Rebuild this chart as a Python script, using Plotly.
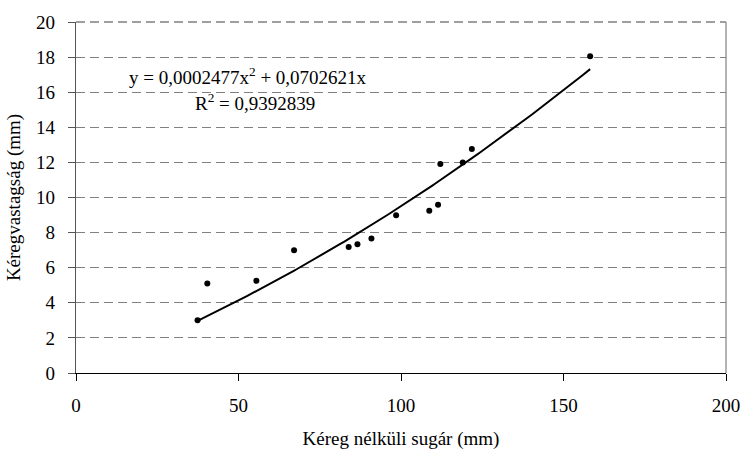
import numpy as np
import plotly.graph_objects as go

# Measured samples: bark-free radius (mm) vs bark thickness (mm)
radius = [37.4, 40.4, 55.5, 67.1, 83.9, 86.6, 90.9, 98.5, 108.7, 111.4, 112.1, 119.0, 121.8, 158.2]
thickness = [3.01, 5.10, 5.25, 7.00, 7.18, 7.34, 7.66, 8.99, 9.25, 9.59, 11.91, 12.00, 12.76, 18.05]

# Quadratic trend through the origin
coef_a = 0.0002477
coef_b = 0.0702621
r_squared = 0.9392839

x_ticks = [0, 50, 100, 150, 200]
y_ticks = [0, 2, 4, 6, 8, 10, 12, 14, 16, 18, 20]

FONT = "Liberation Serif"
FS = 19

xs = np.linspace(min(radius), max(radius), 200)
ys = coef_a * xs**2 + coef_b * xs

fig = go.Figure()
fig.add_trace(go.Scatter(x=xs, y=ys, mode="lines",
                         line=dict(color="black", width=2), hoverinfo="skip"))
fig.add_trace(go.Scatter(x=radius, y=thickness, mode="markers",
                         marker=dict(color="black", size=6)))

def fmt(v, d):
    return f"{v:.{d}f}".replace(".", ",")

eq_text = f"y = {fmt(coef_a, 7)}x<sup>2</sup> + {fmt(coef_b, 7)}x"
r2_text = f"R<sup>2</sup> = {fmt(r_squared, 7)}"

fig.add_annotation(x=0.078, y=0.846, xref="paper", yref="paper", text=eq_text,
                   showarrow=False, xanchor="left", yanchor="middle",
                   font=dict(family=FONT, size=FS, color="black"))
fig.add_annotation(x=0.18, y=0.772, xref="paper", yref="paper", text=r2_text,
                   showarrow=False, xanchor="left", yanchor="middle",
                   font=dict(family=FONT, size=FS, color="black"))

# right-hand frame edge
fig.add_shape(type="line", xref="paper", yref="paper", x0=1, x1=1, y0=0, y1=1,
              line=dict(color="#8c8c8c", width=1.3))
# dashed top edge
fig.add_shape(type="line", xref="paper", yref="paper", x0=0, x1=1, y0=1, y1=1,
              line=dict(color="#808080", width=1.3, dash="9px,5px"))

fig.update_layout(
    width=744, height=451,
    margin=dict(l=76, r=18, t=22, b=78),
    paper_bgcolor="white", plot_bgcolor="white",
    showlegend=False,
    font=dict(family=FONT, size=FS, color="black"),
    xaxis=dict(range=[0, 200], tickvals=x_ticks, showgrid=False, zeroline=False,
               automargin=False,
               showline=True, linecolor="black", linewidth=1.3,
               ticks="outside", ticklen=7, tickcolor="black", tickwidth=1,
               ticklabelstandoff=8,
               tickfont=dict(family=FONT, size=FS),
               title=dict(text="Kéreg nélküli sugár (mm)", standoff=16,
                          font=dict(family=FONT, size=FS))),
    yaxis=dict(range=[0, 20], tickvals=y_ticks, zeroline=False,
               automargin=False,
               showgrid=True, gridcolor="#808080", gridwidth=1, griddash="9px,5px",
               showline=True, linecolor="#555555", linewidth=1.3,
               ticks="outside", ticklen=7, tickcolor="#555555", tickwidth=1,
               ticklabelstandoff=9,
               tickfont=dict(family=FONT, size=FS),
               title=dict(text="Kéregvastagság (mm)", standoff=10,
                          font=dict(family=FONT, size=FS))),
)

fig.write_html("out.html")
